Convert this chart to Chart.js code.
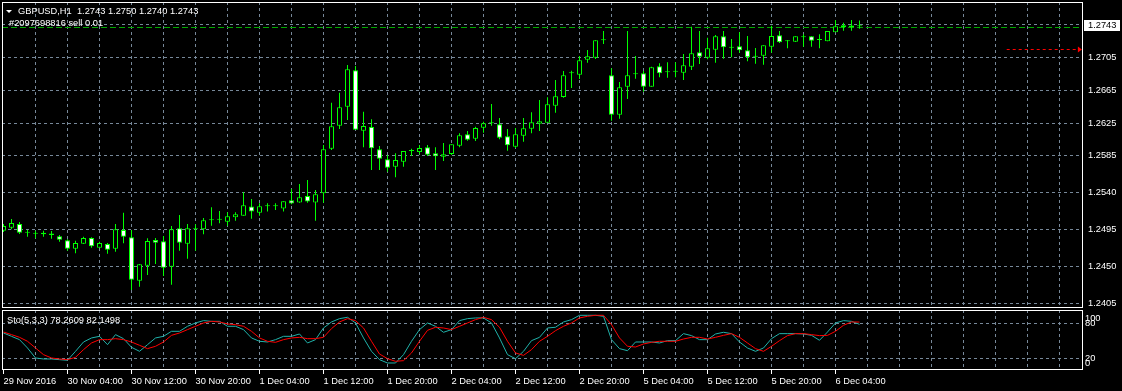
<!DOCTYPE html>
<html>
<head>
<meta charset="utf-8">
<script src="https://cdn.jsdelivr.net/npm/chart.js@4.4.0/dist/chart.umd.min.js"></script>
<style>
html,body{margin:0;padding:0;background:#000;overflow:hidden;}
#wrap{position:relative;width:1122px;height:391px;background:#000;}
canvas{position:absolute;left:0;}
#c1{top:0;width:1122px;height:310px;}
#c2{top:310px;width:1122px;height:81px;}
</style>
</head>
<body>
<div id="wrap">
<canvas id="c1" width="1122" height="310"></canvas>
<canvas id="c2" width="1122" height="81"></canvas>
</div>
<script>
// ---------- DATA (GBPUSD H1, 29 Nov 2016 20:00 .. 6 Dec 2016 07:00) ----------
const symbolTitle = "GBPUSD,H1";
const orderText = "#2097698816 sell 0.01";
const opens = [
1.24938,1.24974,1.25019,1.24913,1.24901,1.24913,1.24903,1.24869,1.24821,1.24718,
1.24779,1.24849,1.24730,1.24775,1.24718,1.24946,1.24857,1.24328,1.24511,1.24824,
1.24808,1.24499,1.24967,1.24779,1.24955,1.24955,1.25064,1.25072,1.25047,1.25101,
1.25121,1.25233,1.25157,1.25235,1.25235,1.25208,1.25308,1.25282,1.25361,1.25282,
1.25394,1.25938,1.26218,1.26450,1.26894,1.26157,1.26202,1.25930,1.25808,1.25718,
1.25779,1.25910,1.25897,1.25955,1.25882,1.25840,1.25873,1.25974,1.26113,1.26060,
1.26194,1.26247,1.26235,1.26089,1.25962,1.26096,1.26182,1.26243,1.26255,1.26462,
1.26568,1.26857,1.26840,1.27023,1.27047,1.27260,1.26833,1.26352,1.26694,1.26845,
1.26857,1.26694,1.26943,1.26869,1.26877,1.26864,1.26938,1.27113,1.27047,1.27145,
1.27308,1.27169,1.27186,1.27138,1.27060,1.27072,1.27182,1.27321,1.27261,1.27242,
1.27305,1.27308,1.27263,1.27247,1.27357,1.27442,1.27440,1.27430];
const highs = [
1.25019,1.25080,1.25044,1.24946,1.24938,1.24938,1.24934,1.24885,1.24833,1.24816,
1.24864,1.24857,1.24803,1.24788,1.25019,1.25157,1.24946,1.24532,1.24845,1.24849,
1.24873,1.24995,1.25129,1.25019,1.25016,1.25093,1.25223,1.25178,1.25162,1.25162,
1.25406,1.25324,1.25272,1.25272,1.25272,1.25296,1.25446,1.25507,1.25556,1.25434,
1.25983,1.26499,1.26621,1.26958,1.26946,1.26389,1.26296,1.25971,1.25861,1.25882,
1.25910,1.25938,1.25983,1.25983,1.25955,1.26007,1.25991,1.26125,1.26153,1.26206,
1.26267,1.26483,1.26312,1.26178,1.26190,1.26312,1.26382,1.26532,1.26564,1.26775,
1.26885,1.26889,1.27068,1.27141,1.27260,1.27373,1.26918,1.26751,1.27373,1.27068,
1.26885,1.26938,1.26979,1.26991,1.26991,1.27093,1.27425,1.27373,1.27291,1.27324,
1.27373,1.27275,1.27357,1.27312,1.27166,1.27199,1.27438,1.27373,1.27263,1.27308,
1.27333,1.27308,1.27333,1.27373,1.27507,1.27474,1.27507,1.27500];
const lows = [
1.24922,1.24955,1.24897,1.24864,1.24845,1.24864,1.24840,1.24803,1.24694,1.24662,
1.24775,1.24730,1.24730,1.24657,1.24682,1.24784,1.24214,1.24255,1.24397,1.24532,
1.24385,1.24279,1.24694,1.24596,1.24694,1.24894,1.24999,1.25028,1.24999,1.25060,
1.25121,1.25084,1.25121,1.25172,1.25190,1.25172,1.25260,1.25279,1.25279,1.25060,
1.25279,1.25922,1.26178,1.26288,1.26166,1.25955,1.25678,1.25678,1.25657,1.25589,
1.25718,1.25849,1.25869,1.25849,1.25678,1.25788,1.25861,1.25955,1.26035,1.26032,
1.26133,1.26218,1.26052,1.25913,1.25946,1.26023,1.26125,1.26153,1.26255,1.26377,
1.26560,1.26678,1.26788,1.26986,1.27032,1.27214,1.26279,1.26303,1.26544,1.26791,
1.26633,1.26694,1.26808,1.26803,1.26808,1.26775,1.26897,1.26971,1.27028,1.26986,
1.27035,1.27052,1.27108,1.27004,1.26974,1.26962,1.27108,1.27227,1.27162,1.27239,
1.27182,1.27182,1.27162,1.27247,1.27357,1.27377,1.27377,1.27400];
const closes = [
1.24995,1.25032,1.24913,1.24913,1.24901,1.24895,1.24885,1.24828,1.24718,1.24788,
1.24849,1.24747,1.24788,1.24706,1.24955,1.24864,1.24340,1.24528,1.24812,1.24791,
1.24486,1.24955,1.24791,1.24967,1.24955,1.25064,1.25064,1.25072,1.25113,1.25138,
1.25247,1.25172,1.25236,1.25235,1.25235,1.25296,1.25269,1.25345,1.25294,1.25383,
1.25930,1.26211,1.26443,1.26906,1.26169,1.26214,1.25943,1.25816,1.25706,1.25800,
1.25910,1.25910,1.25946,1.25864,1.25845,1.25869,1.25991,1.26101,1.26047,1.26190,
1.26247,1.26247,1.26072,1.25979,1.26113,1.26186,1.26260,1.26272,1.26479,1.26577,
1.26833,1.26857,1.27016,1.27064,1.27260,1.27260,1.26352,1.26686,1.26833,1.26845,
1.26694,1.26930,1.26857,1.26869,1.26877,1.26955,1.27101,1.27060,1.27162,1.27308,
1.27174,1.27169,1.27138,1.27052,1.27060,1.27199,1.27312,1.27235,1.27249,1.27308,
1.27297,1.27255,1.27263,1.27373,1.27430,1.27422,1.27422,1.27430];
const stochMain = [
63.4,57.7,52.0,37.7,20.6,18.9,18.9,17.7,16.6,32.0,
48.0,54.9,57.7,43.4,60.6,53.7,38.9,32.0,43.4,54.9,
57.7,66.3,66.3,74.9,80.6,84.6,83.4,83.4,74.9,74.9,
69.2,54.9,49.2,48.0,52.0,57.7,57.7,61.7,46.3,52.0,
72.0,82.3,88.0,90.3,80.6,54.9,32.0,17.7,12.0,12.0,
26.3,49.2,69.2,80.6,74.9,64.6,69.2,84.6,88.0,89.2,
89.2,80.6,54.9,26.3,19.4,32.0,50.3,56.0,72.0,73.2,
82.3,86.3,93.7,93.7,93.7,92.0,52.0,36.6,33.1,48.0,
48.0,48.0,46.3,50.3,50.3,62.3,58.9,52.0,52.0,61.7,
64.6,62.3,48.0,37.7,32.0,37.7,53.7,62.3,62.3,62.3,
61.7,59.4,50.9,65.1,80.6,84.6,83.4,78.2609];
const stochSignal = [
65.1,60.6,56.0,49.2,37.7,26.3,20.6,18.9,17.7,21.7,
34.9,46.3,52.0,52.0,53.7,52.0,48.0,42.3,36.6,40.6,
48.0,59.4,63.4,69.2,74.9,80.6,83.4,82.3,78.9,77.7,
74.9,66.3,54.9,49.2,47.4,52.0,54.9,56.0,53.7,53.7,
56.0,70.9,82.3,88.0,84.6,72.0,49.2,27.4,19.4,14.9,
16.0,29.2,49.2,68.0,73.2,72.0,69.2,74.9,80.6,86.3,
90.3,86.3,73.2,49.2,29.2,25.1,34.9,49.2,57.7,67.4,
74.9,80.6,89.2,92.0,93.7,93.7,77.7,54.9,40.6,39.4,
44.6,47.4,49.2,49.2,49.2,53.1,56.0,56.0,53.1,56.0,
59.4,62.3,56.0,46.3,36.6,32.0,40.6,50.3,58.9,62.3,
62.3,60.6,58.9,59.4,66.3,76.6,82.3,82.1498];
const timeLabels = ["29 Nov 2016","30 Nov 04:00","30 Nov 12:00","30 Nov 20:00","1 Dec 04:00","1 Dec 12:00","1 Dec 20:00","2 Dec 04:00","2 Dec 12:00","2 Dec 20:00","5 Dec 04:00","5 Dec 12:00","5 Dec 20:00","6 Dec 04:00"];
const priceTicks = [1.2405,1.2450,1.2495,1.2540,1.2585,1.2625,1.2665,1.2705];
const topGridPrice = 1.27455;
const stochLevels = [20,80];
const orderPrice = 1.27422;
const arrowPrice = 1.27150;
const arrowFrom = 125.4, arrowTo = 134.8;

// ---------- LAYOUT ----------
const FONT_FAMILY = "'Liberation Sans', Arial, sans-serif";
const FONT = {family: FONT_FAMILY, size: 9.3};
const CSS_FONT = "9.3px " + FONT_FAMILY;
const GRID = '#778899';
const CANDLE = '#00ff00';
const xMin = -0.1875, xMax = 134.9375;
const yMin = 1.239951, yMax = 1.277268;
const labelStep = 8, gridStep = 4;

const idx = opens.map((_, i) => i);
const gridIdx = [];
for (let v = gridStep; v <= xMax; v += gridStep) gridIdx.push(v);
const gridIdx0 = [0].concat(gridIdx);

const wickData = idx.map(i => ({x: i, y: [lows[i], highs[i]]}));
const bodyData = idx.map(i => ({x: i, y: [Math.min(opens[i], closes[i]), Math.max(opens[i], closes[i])]}));
const bodyFill = idx.map(i => closes[i] > opens[i] ? '#000000' : (closes[i] < opens[i] ? '#ffffff' : CANDLE));

function noPad(s) { s.paddingTop = 0; s.paddingBottom = 0; s.paddingLeft = 0; s.paddingRight = 0; }

const framePlugin = {
  id: 'frame',
  afterDraw(chart) {
    const {ctx, chartArea: a} = chart;
    ctx.save();
    ctx.strokeStyle = '#ffffff'; ctx.lineWidth = 1; ctx.setLineDash([]);
    ctx.strokeRect(a.left + 0.5, a.top + 0.5, a.right - a.left - 1, a.bottom - a.top - 1);
    ctx.restore();
  }
};

const mainOverlay = {
  id: 'mainOverlay',
  beforeDatasetsDraw(chart) {
    const {ctx, chartArea: a, scales: {x, y}} = chart;
    ctx.save();
    const oy = Math.round(y.getPixelForValue(orderPrice)) + 0.5;
    ctx.strokeStyle = '#00a800'; ctx.lineWidth = 1; ctx.setLineDash([6, 3]);
    ctx.beginPath(); ctx.moveTo(a.left, oy); ctx.lineTo(a.right, oy); ctx.stroke();
    const ay = Math.round(y.getPixelForValue(arrowPrice)) + 0.5;
    const ax0 = x.getPixelForValue(arrowFrom), ax1 = x.getPixelForValue(arrowTo);
    ctx.strokeStyle = '#ff0000'; ctx.setLineDash([3, 3]);
    ctx.beginPath(); ctx.moveTo(ax0, ay); ctx.lineTo(ax1 - 4, ay); ctx.stroke();
    ctx.setLineDash([]); ctx.fillStyle = '#ff0000';
    ctx.beginPath(); ctx.moveTo(ax1 - 4, ay - 3); ctx.lineTo(ax1, ay); ctx.lineTo(ax1 - 4, ay + 3); ctx.closePath(); ctx.fill();
    ctx.restore();
  },
  afterDraw(chart) {
    const {ctx, chartArea: a, scales: {y}} = chart;
    const n = closes.length - 1;
    ctx.save();
    ctx.font = CSS_FONT; ctx.textBaseline = 'alphabetic'; ctx.textAlign = 'left';
    ctx.fillStyle = '#ffffff';
    ctx.beginPath(); ctx.moveTo(6, 10); ctx.lineTo(12, 10); ctx.lineTo(9, 13); ctx.closePath(); ctx.fill();
    const t1 = symbolTitle + "  " + [opens[n], highs[n], lows[n], closes[n]].map(v => v.toFixed(4)).join(" ");
    ctx.fillText(t1, 18, 13.5);
    ctx.fillText(orderText, 9, 25.5);
    const by = y.getPixelForValue(closes[n]);
    ctx.fillStyle = '#ffffff';
    ctx.fillRect(a.right + 1, Math.round(by) - 6, 36, 11);
    ctx.fillStyle = '#000000'; ctx.textBaseline = 'middle';
    ctx.fillText(closes[n].toFixed(4), a.right + 5, Math.round(by) - 0.5);
    ctx.restore();
  }
};

new Chart(document.getElementById('c1'), {
  type: 'bar',
  data: {
    datasets: [
      {data: wickData, backgroundColor: CANDLE, borderWidth: 0, barThickness: 1, grouped: false, order: 2, inflateAmount: 0},
      {data: bodyData, backgroundColor: bodyFill, borderColor: CANDLE, borderWidth: 1, borderSkipped: false,
       barThickness: 5, grouped: false, order: 1, minBarLength: 1, inflateAmount: 0}
    ]
  },
  options: {
    responsive: false, animation: false, devicePixelRatio: 1,
    layout: {padding: {left: 2, top: 2, right: 0, bottom: 2}, autoPadding: false},
    plugins: {legend: {display: false}, tooltip: {enabled: false}},
    scales: {
      x: {
        type: 'linear', min: xMin, max: xMax, offset: false,
        afterBuildTicks: s => { s.ticks = gridIdx.map(v => ({value: v})); },
        afterFit: s => { s.height = 0; noPad(s); },
        ticks: {display: false},
        grid: {color: GRID, drawTicks: false, offset: false, lineWidth: 1},
        border: {display: false, dash: [3, 3]}
      },
      y: {
        position: 'right', min: yMin, max: yMax,
        afterBuildTicks: s => { s.ticks = priceTicks.concat([topGridPrice]).map(v => ({value: v})); },
        afterFit: s => { s.width = 39; noPad(s); },
        ticks: {color: '#ffffff', font: FONT, padding: 5, autoSkip: false,
                callback: v => priceTicks.includes(v) ? v.toFixed(4) : ''},
        grid: {color: GRID, drawTicks: false, lineWidth: 1},
        border: {display: false, dash: [3, 3]}
      }
    }
  },
  plugins: [mainOverlay, framePlugin]
});

const subOverlay = {
  id: 'subOverlay',
  afterDraw(chart) {
    const {ctx, chartArea: a, scales: {y}} = chart;
    const n = stochMain.length - 1;
    ctx.save();
    ctx.font = CSS_FONT; ctx.fillStyle = '#ffffff'; ctx.textAlign = 'left'; ctx.textBaseline = 'alphabetic';
    ctx.fillText("Sto(5,3,3) " + stochMain[n].toFixed(4) + " " + stochSignal[n].toFixed(4), 7, 12.8);
    ctx.fillText("100", a.right + 2, y.getPixelForValue(100) + 9);
    ctx.fillText("0", a.right + 2, y.getPixelForValue(0) - 4);
    ctx.restore();
  }
};

new Chart(document.getElementById('c2'), {
  type: 'line',
  data: {
    datasets: [
      {data: idx.map(i => ({x: i, y: stochMain[i]})), borderColor: '#20b2aa', borderWidth: 1, pointRadius: 0, tension: 0, order: 2},
      {data: idx.map(i => ({x: i, y: stochSignal[i]})), borderColor: '#ff0000', borderWidth: 1, pointRadius: 0, tension: 0, order: 1}
    ]
  },
  options: {
    responsive: false, animation: false, devicePixelRatio: 1,
    layout: {padding: {left: 2, top: 0, right: 0, bottom: 0}, autoPadding: false},
    plugins: {legend: {display: false}, tooltip: {enabled: false}},
    scales: {
      x: {
        type: 'linear', min: xMin, max: xMax, offset: false,
        afterBuildTicks: s => { s.ticks = gridIdx0.map(v => ({value: v})); },
        afterFit: s => { s.height = 21; noPad(s); },
        ticks: {color: '#ffffff', font: FONT, align: 'start', maxRotation: 0, autoSkip: false, padding: 2,
                callback: v => (v % labelStep === 0 && v / labelStep < timeLabels.length) ? timeLabels[v / labelStep] : ''},
        grid: {
          color: c => (c.tick && c.tick.value === 0) ? 'rgba(0,0,0,0)' : GRID,
          tickColor: c => (c.tick && c.tick.value % labelStep === 0 && c.tick.value / labelStep < timeLabels.length) ? '#ffffff' : 'rgba(0,0,0,0)',
          drawTicks: true, tickLength: 4, tickBorderDash: [], offset: false, lineWidth: 1
        },
        border: {display: false, dash: [3, 3]}
      },
      y: {
        position: 'right', min: 0, max: 102.8,
        afterBuildTicks: s => { s.ticks = stochLevels.map(v => ({value: v})); },
        afterFit: s => { s.width = 39; noPad(s); },
        ticks: {color: '#ffffff', font: FONT, padding: 2, autoSkip: false, callback: v => String(v)},
        grid: {color: GRID, drawTicks: false, lineWidth: 1},
        border: {display: false, dash: [3, 3]}
      }
    }
  },
  plugins: [subOverlay, framePlugin]
});
</script>
</body>
</html>
